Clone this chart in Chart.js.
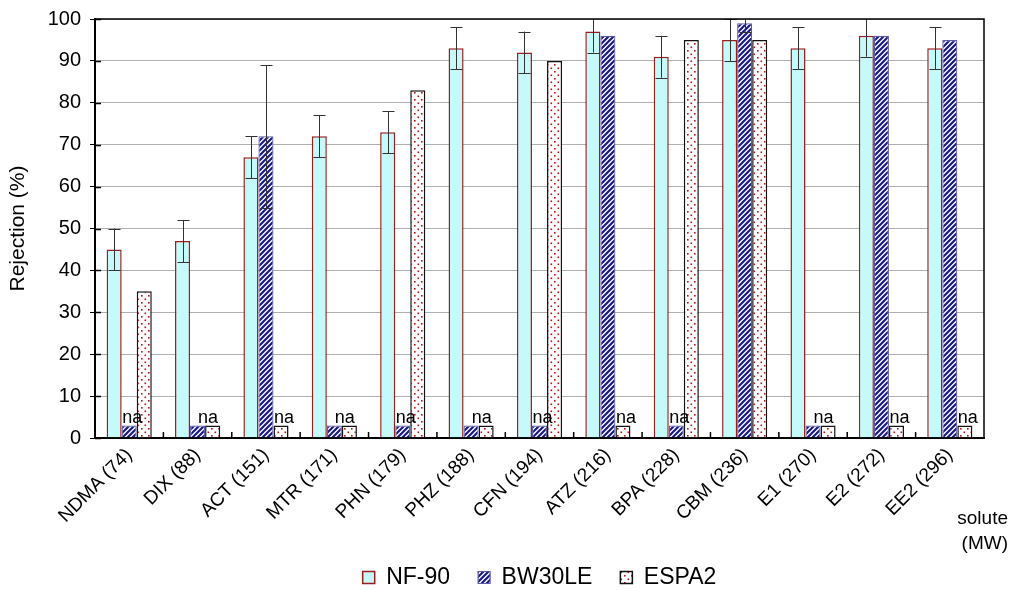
<!DOCTYPE html>
<html>
<head>
<meta charset="utf-8">
<script src="https://cdn.jsdelivr.net/npm/chart.js@4/dist/chart.umd.min.js"></script>
<style>
html, body { margin: 0; padding: 0; background: #fff; }
#wrap { width: 1012px; height: 590px; }
</style>
</head>
<body>
<div id="wrap"><canvas id="myChart" width="1012" height="590"></canvas></div>
<script>
// solutes with molecular weight
const solutes = ['NDMA (74)', 'DIX (88)', 'ACT (151)', 'MTR (171)', 'PHN (179)', 'PHZ (188)',
    'CFN (194)', 'ATZ (216)', 'BPA (228)', 'CBM (236)', 'E1 (270)', 'E2 (272)', 'EE2 (296)'];

// rejection (%) per membrane
const nf90 = [45, 47, 67, 72, 73, 93, 92, 97, 91, 95, 93, 96, 93];
const nf90Err = [5, 5, 5, 5, 5, 5, 5, 5, 5, 5, 5, 5, 5];
const bw30le = [3, 3, 72, 3, 3, 3, 3, 96, 3, 99, 3, 96, 95];
const bw30leErr = [0, 0, 17, 0, 0, 0, 0, 0, 0, 2, 0, 0, 0];
const espa2 = [35, 3, 3, 3, 83, 3, 90, 3, 95, 95, 3, 3, 3];

// not available (drawn as a small stub with "na")
const bw30leNa = [true, true, false, true, true, true, true, false, true, false, true, false, false];
const espa2Na = [false, true, true, true, false, true, false, true, false, false, true, true, true];

const yTicks = [0, 10, 20, 30, 40, 50, 60, 70, 80, 90, 100];

const FONT = "'Liberation Sans', Arial, sans-serif";

function stripePattern() {
    const s = 5;
    const c = document.createElement('canvas');
    c.width = s; c.height = s;
    const g = c.getContext('2d');
    g.fillStyle = '#ffffff';
    g.fillRect(0, 0, s, s);
    g.strokeStyle = '#1a1a84';
    g.lineWidth = 2.2;
    g.beginPath();
    g.moveTo(0, s); g.lineTo(s, 0);
    g.moveTo(-s, s); g.lineTo(s, -s);
    g.moveTo(0, 2 * s); g.lineTo(2 * s, 0);
    g.stroke();
    return g.createPattern(c, 'repeat');
}

function dotPattern() {
    const s = 7;
    const c = document.createElement('canvas');
    c.width = s; c.height = s;
    const g = c.getContext('2d');
    g.fillStyle = '#ffffff';
    g.fillRect(0, 0, s, s);
    g.fillStyle = '#c01010';
    g.fillRect(1, 1, 1.6, 1.6);
    g.fillRect(4.5, 4.5, 1.6, 1.6);
    return g.createPattern(c, 'repeat');
}

// error bars, na labels, frame, inner ticks, axis note
const extrasPlugin = {
    id: 'extras',
    afterDatasetsDraw(chart) {
        const ctx = chart.ctx;
        const area = chart.chartArea;
        const x = chart.scales.x;
        const y = chart.scales.y;

        // error bars
        ctx.save();
        ctx.beginPath();
        ctx.rect(area.left, area.top, area.right - area.left, area.bottom - area.top);
        ctx.clip();
        ctx.strokeStyle = '#333333';
        ctx.lineWidth = 1;
        const errs = [nf90Err, bw30leErr];
        const vals = [nf90, bw30le];
        errs.forEach((err, d) => {
            const meta = chart.getDatasetMeta(d);
            err.forEach((e, i) => {
                if (!e) return;
                const cx = Math.round(meta.data[i].x) + 0.5;
                const top = y.getPixelForValue(vals[d][i] + e);
                const bot = y.getPixelForValue(vals[d][i] - e);
                ctx.beginPath();
                ctx.moveTo(cx, top); ctx.lineTo(cx, bot);
                ctx.moveTo(cx - 6, Math.round(top) + 0.5); ctx.lineTo(cx + 6, Math.round(top) + 0.5);
                ctx.moveTo(cx - 6, Math.round(bot) + 0.5); ctx.lineTo(cx + 6, Math.round(bot) + 0.5);
                ctx.stroke();
            });
        });
        ctx.restore();

        // na labels
        ctx.save();
        ctx.font = '18px ' + FONT;
        ctx.fillStyle = '#000';
        ctx.textAlign = 'center';
        ctx.textBaseline = 'alphabetic';
        const mb = chart.getDatasetMeta(1);
        const me = chart.getDatasetMeta(2);
        solutes.forEach((s, i) => {
            const xs = [];
            if (bw30leNa[i]) xs.push(mb.data[i].x);
            if (espa2Na[i]) xs.push(me.data[i].x);
            if (!xs.length) return;
            const cx = xs.reduce((a, b) => a + b, 0) / xs.length + 3;
            ctx.fillText('na', cx, y.getPixelForValue(3) - 2);
        });
        ctx.restore();

        // frame and small ticks
        ctx.save();
        ctx.strokeStyle = '#000';
        ctx.lineWidth = 1.5;
        ctx.strokeRect(area.left, area.top, area.right - area.left, area.bottom - area.top);
        ctx.beginPath();
        for (let i = 1; i < solutes.length; i++) {
            const bx = (x.getPixelForValue(i - 1) + x.getPixelForValue(i)) / 2;
            ctx.moveTo(bx, area.bottom);
            ctx.lineTo(bx, area.bottom - 6);
        }
        yTicks.forEach(v => {
            const py = Math.round(y.getPixelForValue(v)) + 0.5;
            ctx.moveTo(area.left, py);
            ctx.lineTo(area.left + 6, py);
        });
        ctx.stroke();
        ctx.restore();

        // x axis note
        ctx.save();
        ctx.font = '19px ' + FONT;
        ctx.fillStyle = '#000';
        ctx.textAlign = 'right';
        ctx.fillText('solute', area.right + 24, area.bottom + 81);
        ctx.fillText('(MW)', area.right + 24, area.bottom + 106);
        ctx.restore();
    }
};

function initializeChart() {
    const ctx = document.getElementById('myChart').getContext('2d');
    new Chart(ctx, {
        type: 'bar',
        data: {
            labels: solutes,
            datasets: [{
                label: 'NF-90',
                data: nf90,
                backgroundColor: '#c4fafa',
                borderColor: '#9a1e1e',
                borderWidth: 1.5,
                borderSkipped: 'bottom'
            }, {
                label: 'BW30LE',
                data: bw30le,
                backgroundColor: stripePattern(),
                borderColor: '#5c5ca8',
                borderWidth: 1.2,
                borderSkipped: 'bottom'
            }, {
                label: 'ESPA2',
                data: espa2,
                backgroundColor: dotPattern(),
                borderColor: '#111111',
                borderWidth: 1.5,
                borderSkipped: 'bottom'
            }]
        },
        options: {
            responsive: false,
            animation: false,
            devicePixelRatio: 1,
            layout: { padding: { left: 0, right: 28, top: 12, bottom: -9 } },
            datasets: {
                bar: { categoryPercentage: 0.66, barPercentage: 1.0 }
            },
            scales: {
                x: {
                    grid: { display: false, drawTicks: false },
                    border: { color: '#000', width: 2 },
                    ticks: {
                        color: '#000',
                        font: { family: FONT, size: 19 },
                        maxRotation: 45,
                        minRotation: 45,
                        padding: 6,
                        autoSkip: false
                    },
                    afterFit(scale) { scale.height = 100; }
                },
                y: {
                    min: 0,
                    max: 100,
                    afterBuildTicks(scale) { scale.ticks = yTicks.map(v => ({ value: v })); },
                    grid: {
                        color: '#b0b0b0',
                        lineWidth: 1,
                        borderDash: [3, 2],
                        tickColor: '#000',
                        tickLength: 5,
                        tickBorderDash: []
                    },
                    border: { color: '#000', width: 2 },
                    ticks: {
                        color: '#000',
                        font: { family: FONT, size: 20, lineHeight: 1 },
                        padding: 9
                    },
                    title: {
                        display: true,
                        text: 'Rejection (%)',
                        color: '#000',
                        font: { family: FONT, size: 21 },
                        padding: { top: 6, bottom: 0 }
                    },
                    afterFit(scale) { scale.width = 95; }
                }
            },
            plugins: {
                legend: {
                    position: 'bottom',
                    fullSize: false,
                    labels: {
                        color: '#000',
                        font: { family: FONT, size: 23 },
                        boxWidth: 12,
                        boxHeight: 12,
                        padding: 28
                    }
                },
                tooltip: { enabled: false }
            }
        },
        plugins: [extrasPlugin]
    });
}

document.addEventListener('DOMContentLoaded', initializeChart);
</script>
</body>
</html>
